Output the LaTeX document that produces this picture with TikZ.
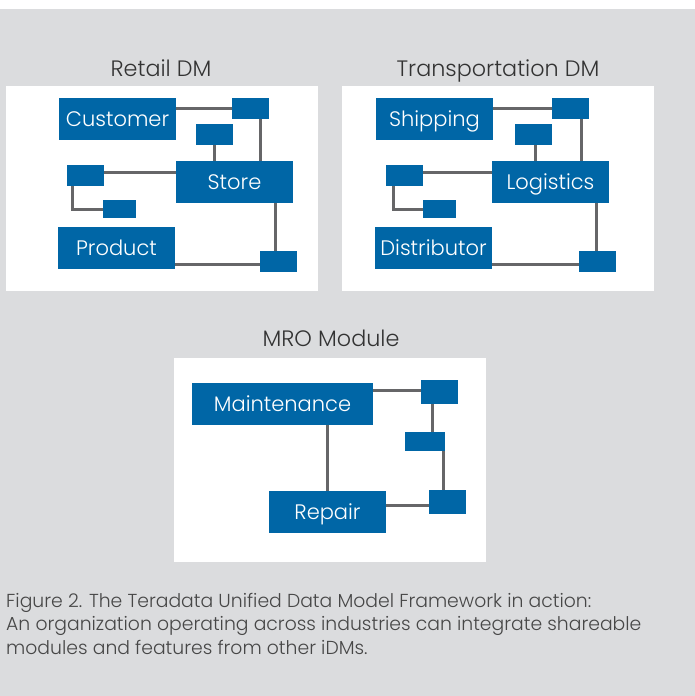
\documentclass[tikz,border=0pt]{standalone}
\usepackage{fontspec}
\IfFontExistsTF{Poppins Light}{\setmainfont{Poppins Light}}{\setmainfont{Poppins}}
\definecolor{bgc}{HTML}{DBDCDE}
\definecolor{blu}{HTML}{0066A6}
\definecolor{lnc}{HTML}{666668}
\definecolor{ttl}{HTML}{333333}
\definecolor{cpt}{HTML}{474747}
\tikzset{
  blk/.style={fill=blu, text=white, inner sep=0pt, text height=14.5pt, text depth=0pt, font=\fontsize{21}{24}\selectfont},
  sbx/.style={fill=blu, inner sep=0pt, minimum width=37pt, minimum height=21pt},
  wire/.style={draw=lnc, line width=3pt},
  panel/.style={fill=white, draw=none},
  ptitle/.style={text=ttl, anchor=base, inner sep=0pt, font=\fontsize{22.3}{25}\selectfont},
  capt/.style={text=cpt, anchor=base west, inner sep=0pt, font=\fontsize{18.8}{22}\selectfont}
}
\begin{document}
\begin{tikzpicture}[x=1pt,y=-1pt]
\useasboundingbox (0,0) rectangle (695,696);
\fill[white] (0,0) rectangle (695,696);
\fill[bgc] (0,9) rectangle (695,696);
% panels
\fill[panel] (6,86) rectangle (318,291);
\fill[panel] (342,86) rectangle (654,291);
\fill[panel] (174,358) rectangle (486,562);
% titles
\node[ptitle] (tret) at (161,76) {Retail DM};
\node[ptitle] (ttra) at (498,76) {Transportation DM};
\node[ptitle] (tmro) at (331,346) {MRO Module};
% ---- Retail
\node[blk, minimum width=117pt, minimum height=42pt] (cust) at (117.5,119) {Customer};
\node[sbx] (r1) at (250.5,108.5) {};
\node[sbx] (r2) at (214.5,134.5) {};
\node[blk, minimum width=117pt, minimum height=42pt] (store) at (234.5,182) {Store};
\node[sbx] (r3) at (85.5,175.5) {};
\node[sbx, minimum width=33pt, minimum height=18pt] (r4) at (119.5,209) {};
\node[blk, minimum width=117pt, minimum height=42pt] (prod) at (116.5,248) {Product};
\node[sbx] (r5) at (278.5,261.5) {};
\draw[wire] (r1.west) -- (r1.west -| cust.east);
\draw[wire] ([xshift=9.5pt]r1.south) -- ([xshift=9.5pt]r1.south |- store.north);
\draw[wire] (r2.south) -- (r2.south |- store.north);
\draw[wire] ([yshift=3.5pt]r3.east) -- ([yshift=3.5pt]r3.east -| store.west);
\draw[wire] ([xshift=-13.5pt]r3.south) |- (r4.west);
\draw[wire] ([xshift=40.5pt]store.south) -- ([xshift=40.5pt]store.south |- r5.north);
\draw[wire] ([yshift=-16pt]prod.east) -- ([yshift=-16pt]prod.east -| r5.west);
% ---- Transportation
\node[blk, minimum width=117pt, minimum height=42pt] (ship) at (434.5,119) {Shipping};
\node[sbx] (t1) at (570.5,108.5) {};
\node[sbx] (t2) at (533.5,134.5) {};
\node[blk, minimum width=117pt, minimum height=42pt] (logi) at (550.5,182) {Logistics};
\node[sbx] (t3) at (404.5,175.5) {};
\node[sbx, minimum width=33pt, minimum height=18pt] (t4) at (439.5,209) {};
\node[blk, minimum width=117pt, minimum height=42pt] (dist) at (433.5,248) {Distributor};
\node[sbx] (t5) at (597.5,261.5) {};
\draw[wire] (t1.west) -- (t1.west -| ship.east);
\draw[wire] ([xshift=10.5pt]t1.south) -- ([xshift=10.5pt]t1.south |- logi.north);
\draw[wire] ([xshift=1.5pt]t2.south) -- ([xshift=1.5pt]t2.south |- logi.north);
\draw[wire] ([yshift=3.5pt]t3.east) -- ([yshift=3.5pt]t3.east -| logi.west);
\draw[wire] ([xshift=-11.5pt]t3.south) |- (t4.west);
\draw[wire] ([xshift=45.5pt]logi.south) -- ([xshift=45.5pt]logi.south |- t5.north);
\draw[wire] ([yshift=-16pt]dist.east) -- ([yshift=-16pt]dist.east -| t5.west);
% ---- MRO
\node[blk, minimum width=181pt, minimum height=42pt] (maint) at (282.5,404) {Maintenance};
\node[sbx, minimum height=24pt] (m1) at (439.5,392) {};
\node[sbx, minimum width=40pt, minimum height=19pt] (m2) at (425,441.5) {};
\node[sbx, minimum height=24pt] (m3) at (447.5,502) {};
\node[blk, minimum width=117pt, minimum height=42pt] (rep) at (327.5,512) {Repair};
\draw[wire] ([yshift=2pt]m1.west) -- ([yshift=2pt]m1.west -| maint.east);
\draw[wire] ([xshift=-7.5pt]m1.south) -- ([xshift=-7.5pt]m1.south |- m2.north);
\draw[wire] ([xshift=18pt]m2.south) -- ([xshift=18pt]m2.south |- m3.north);
\draw[wire] ([yshift=7pt]rep.east) -- ([yshift=7pt]rep.east -| m3.west);
\draw[wire] (rep.north) -- (rep.north |- maint.south);
% caption
\node[capt] (cap1) at (6,607) {Figure 2. The Teradata Unified Data Model Framework in action:};
\node[capt] (cap2) at (6,630.5) {An organization operating across industries can integrate shareable};
\node[capt] (cap3) at (6,654) {modules and features from other iDMs.};
\end{tikzpicture}
\end{document}
